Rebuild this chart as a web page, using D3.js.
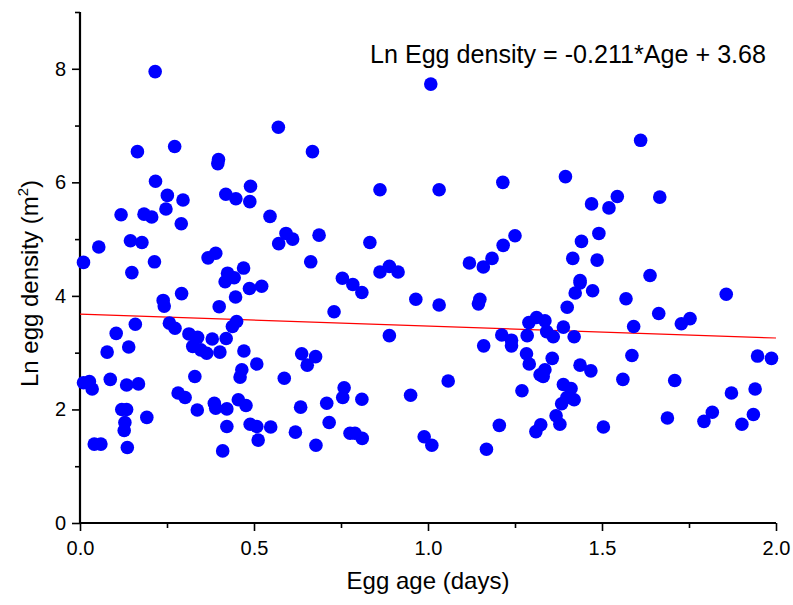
<!DOCTYPE html>
<html>
<head>
<meta charset="utf-8">
<script src="https://cdnjs.cloudflare.com/ajax/libs/d3/7.8.5/d3.min.js"></script>
<style>
  body { margin: 0; background: #fff; }
  .chart text { font-family: 'Liberation Sans', Arial, sans-serif; fill: #000; }
</style>
</head>
<body>
<div class="chart"></div>
<script>

// egg age (days) and ln egg density
var ages = [
  0.216, 0.165, 0.272, 0.398, 0.396, 0.217, 0.251, 0.296, 0.247, 0.118,
  0.184, 0.206, 0.291, 0.419, 0.448, 0.490, 0.488, 0.054, 0.145, 0.178,
  0.010, 0.214, 0.149, 0.368, 0.390, 0.470, 0.424, 0.443, 0.417, 0.570,
  0.668, 0.862, 0.546, 0.592, 0.611, 0.571, 0.687, 0.833, 0.663, 0.862,
  0.889, 0.914, 0.754, 0.784, 0.810, 0.487, 0.522, 0.965, 0.730, 0.889,
  0.471, 0.508, 0.465, 0.460, 0.637, 0.677, 0.653, 0.587, 0.759, 0.755,
  0.810, 0.950, 0.709, 0.634, 0.455, 0.477, 0.489, 0.508, 0.512, 0.548,
  0.619, 0.716, 0.678, 0.776, 0.790, 0.811, 0.447, 0.400, 0.239, 0.242,
  0.292, 0.257, 0.273, 0.159, 0.104, 0.140, 0.078, 0.313, 0.338, 0.324,
  0.347, 0.364, 0.380, 0.402, 0.420, 0.438, 0.450, 0.010, 0.027, 0.035,
  0.087, 0.134, 0.168, 0.330, 0.282, 0.302, 0.337, 0.120, 0.134, 0.129,
  0.127, 0.192, 0.386, 0.390, 0.422, 0.422, 0.410, 0.041, 0.060, 0.136,
  1.008, 1.032, 1.215, 1.395, 1.470, 1.250, 1.216, 1.184, 1.159, 1.119,
  1.441, 1.491, 1.416, 1.486, 1.437, 1.611, 1.544, 1.520, 1.666, 1.638,
  1.473, 1.569, 1.857, 1.663, 1.591, 1.728, 1.753, 1.586, 1.468, 1.560,
  1.709, 1.947, 1.987, 1.872, 1.940, 1.688, 1.793, 1.817, 1.902, 1.935,
  1.504, 1.032, 1.145, 1.149, 1.437, 1.423, 1.400, 1.290, 1.312, 1.336,
  1.389, 1.212, 1.240, 1.240, 1.285, 1.341, 1.360, 1.420, 1.160, 1.283,
  1.291, 1.357, 1.437, 1.336, 1.322, 1.331, 1.058, 1.270, 1.389, 1.411,
  1.399, 1.384, 1.420, 1.368, 1.379, 1.324, 1.310, 1.205, 0.989, 1.011,
  1.168
];

var lnDensity = [
  7.95, 6.54, 6.63, 6.40, 6.33, 6.02, 5.77, 5.69, 5.53, 5.43,
  5.44, 5.39, 5.27, 5.79, 5.71, 5.93, 5.66, 4.86, 4.97, 4.94,
  4.59, 4.60, 4.41, 4.67, 4.75, 4.49, 4.40, 4.32, 4.25, 6.97,
  6.54, 5.87, 5.40, 5.10, 5.00, 4.92, 5.07, 4.94, 4.60, 4.42,
  4.52, 4.42, 4.31, 4.20, 4.06, 4.13, 4.17, 3.94, 3.72, 3.30,
  3.03, 2.80, 2.70, 2.57, 2.98, 2.93, 2.78, 2.55, 2.38, 2.21,
  2.18, 2.25, 2.11, 2.04, 2.17, 2.07, 1.74, 1.70, 1.46, 1.69,
  1.60, 1.77, 1.37, 1.58, 1.58, 1.49, 3.98, 3.81, 3.92, 3.82,
  4.04, 3.52, 3.43, 3.50, 3.34, 3.10, 3.01, 3.33, 3.27, 3.11,
  3.05, 2.99, 3.24, 3.01, 3.25, 3.46, 3.55, 2.47, 2.49, 2.36,
  2.53, 2.43, 2.45, 2.58, 2.29, 2.21, 1.99, 2.00, 2.00, 1.77,
  1.63, 1.86, 2.11, 2.02, 2.01, 1.70, 1.27, 1.39, 1.39, 1.33,
  7.73, 5.87, 6.00, 6.10, 5.62, 5.06, 4.89, 4.66, 4.51, 4.58,
  4.96, 5.10, 4.66, 4.63, 4.27, 6.74, 5.75, 5.55, 5.74, 4.36,
  4.09, 3.95, 4.03, 3.69, 3.46, 3.51, 3.60, 2.95, 2.68, 2.53,
  2.51, 2.94, 2.90, 2.29, 2.36, 1.85, 1.79, 1.95, 1.74, 1.91,
  1.69, 3.84, 3.86, 3.94, 4.23, 4.05, 3.80, 3.53, 3.62, 3.56,
  3.45, 3.31, 3.22, 3.12, 3.30, 3.37, 3.28, 3.28, 3.12, 2.98,
  2.80, 2.90, 2.78, 2.70, 2.61, 2.58, 2.50, 2.33, 2.44, 2.37,
  2.21, 2.10, 2.17, 1.89, 1.74, 1.73, 1.61, 1.72, 1.52, 1.37,
  1.30
];

// fitted line: Ln Egg density = -0.211*Age + 3.68
var fitSlope = -0.211;
var fitIntercept = 3.68;

var xMajorTicks = [0, 0.5, 1.0, 1.5, 2.0];
var xMinorTicks = [0.25, 0.75, 1.25, 1.75];
var yMajorTicks = [0, 2, 4, 6, 8];
var yMinorTicks = [1, 3, 5, 7, 9];

var points = ages.map((a, i) => ({ age: a, ln: lnDensity[i] }));

/////////////BUILD THE SCATTER//////////////////////////////////

var margin = { top: 12, right: 17, bottom: 82, left: 80 };
var width = 793 - margin.left - margin.right;
var height = 605 - margin.top - margin.bottom;

var svg = d3.select('.chart')
  .append('svg')
  .attr('width', 793)
  .attr('height', 605)
  .append('g')
  .attr('transform', 'translate(' + margin.left + ',' + margin.top + ')');

var xScale = d3.scaleLinear()
  .domain([0, 2])
  .range([0, width]);

var yScale = d3.scaleLinear()
  .domain([0, 9])
  .range([height, 0]);

// minor ticks first, no labels
svg.append('g')
  .attr('class', 'axis')
  .attr('transform', `translate(0, ${height})`)
  .call(d3.axisBottom(xScale).tickValues(xMinorTicks).tickSize(5).tickFormat(''));

svg.append('g')
  .attr('class', 'axis')
  .call(d3.axisLeft(yScale).tickValues(yMinorTicks).tickSize(5).tickFormat(''));

var xAxis = svg.append('g')
  .attr('class', 'axis')
  .attr('transform', `translate(0, ${height})`)
  .call(d3.axisBottom(xScale).tickValues(xMajorTicks).tickSize(8).tickSizeOuter(0).tickPadding(10).tickFormat(d3.format('.1f')));

var yAxis = svg.append('g')
  .attr('class', 'axis')
  .call(d3.axisLeft(yScale).tickValues(yMajorTicks).tickSize(8).tickSizeOuter(0).tickPadding(6));

svg.selectAll('.axis .domain').remove();
svg.selectAll('.axis line')
  .style('stroke', '#000')
  .style('stroke-width', 1.6);
svg.selectAll('.axis text')
  .style('font-size', '20px');

// axis lines drawn on top, a bit heavier
svg.append('line')
  .attr('x1', 0).attr('x2', width)
  .attr('y1', height).attr('y2', height)
  .style('stroke', '#000')
  .style('stroke-width', 2.2);

svg.append('line')
  .attr('x1', 0).attr('x2', 0)
  .attr('y1', 0).attr('y2', height)
  .style('stroke', '#000')
  .style('stroke-width', 2.2);

// fitted regression line
var line = d3.line()
  .x(d => xScale(d))
  .y(d => yScale(fitIntercept + fitSlope * d));

svg.append('path')
  .attr('d', line([0, 2]))
  .style('stroke', '#ff0000')
  .style('stroke-width', 1.2)
  .style('fill', 'none');

svg.selectAll('.dot')
  .data(points)
  .enter()
  .append('circle')
    .attr('class', 'dot')
    .attr('cx', d => xScale(d.age))
    .attr('cy', d => yScale(d.ln))
    .attr('r', 6.8)
    .style('fill', '#0000ff');

// labels
svg.append('text')
  .attr('x', width / 2)
  .attr('y', height + 66)
  .style('text-anchor', 'middle')
  .style('font-size', '24px')
  .text('Egg age (days)');

var yLabel = svg.append('text')
  .attr('transform', 'translate(-42,' + (height / 2 + 16) + ') rotate(-90)')
  .style('text-anchor', 'middle')
  .style('font-size', '24px');
yLabel.append('tspan').text('Ln egg density (m');
yLabel.append('tspan').attr('dy', -10).style('font-size', '15px').text('2');
yLabel.append('tspan').attr('dy', 10).text(')');

svg.append('text')
  .attr('x', 290)
  .attr('y', 51)
  .attr('textLength', 396)
  .attr('lengthAdjust', 'spacingAndGlyphs')
  .style('font-size', '26px')
  .text('Ln Egg density = ' + fitSlope + '*Age + ' + fitIntercept);

</script>
</body>
</html>
